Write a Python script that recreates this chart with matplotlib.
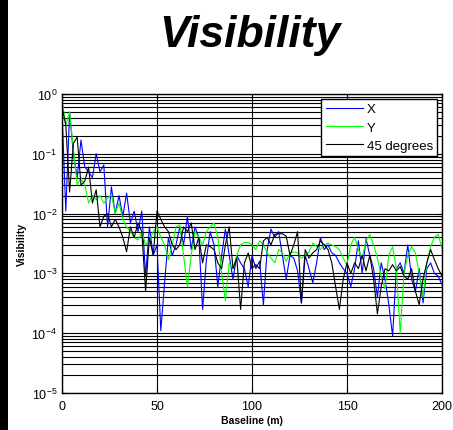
import numpy as np
import matplotlib
matplotlib.use("Agg")
import matplotlib.pyplot as plt
from matplotlib.patches import Rectangle

plt.rcParams['font.family'] = ['Liberation Sans', 'DejaVu Sans']
plt.rcParams['mathtext.default'] = 'regular'

# Baseline positions (m)
baseline = np.arange(0, 201, 2)

vis_x = [0.5, 0.011, 0.5, 0.1, 0.04, 0.17, 0.06, 0.05, 0.04, 0.1,
         0.05, 0.065, 0.006, 0.028, 0.01, 0.02, 0.009, 0.022, 0.007, 0.011,
         0.005, 0.011, 0.0009, 0.006, 0.002, 0.003, 1.1e-4, 7e-4, 0.004, 0.002,
         0.003, 0.006, 0.003, 0.009, 0.0025, 0.006, 0.004, 2.5e-4, 0.0017, 0.005,
         0.003, 6e-4, 0.002, 0.0055, 0.002, 8e-4, 0.002, 0.0015, 0.0012, 6e-4,
         0.002, 0.0012, 0.0016, 3e-4, 0.0025, 0.0055, 0.004, 0.005, 0.002, 8e-4,
         0.002, 0.0018, 0.0011, 3.2e-4, 0.002, 0.0012, 7e-4, 0.0015, 0.004, 0.0025,
         0.003, 0.0022, 0.002, 0.0015, 0.0012, 0.001, 6e-4, 0.0012, 0.0035, 0.001,
         0.0038, 0.002, 0.0012, 4e-4, 0.0015, 8e-4, 3e-4, 9e-5, 0.0012, 0.0015,
         0.001, 0.003, 8e-4, 5e-4, 0.0012, 3.2e-4, 0.0012, 0.0015, 0.001, 9e-4,
         6.5e-4]

vis_y = [0.8, 0.3, 0.5, 0.12, 0.03, 0.04, 0.03, 0.015, 0.02, 0.017,
         0.02, 0.015, 0.018, 0.021, 0.01, 0.015, 0.008, 0.006, 0.005, 0.004,
         0.0036, 0.005, 0.003, 0.0035, 0.005, 0.006, 0.004, 0.003, 0.0017, 0.003,
         0.006, 0.0065, 0.002, 6e-4, 0.002, 0.005, 0.004, 0.003, 0.005, 0.006,
         0.007, 0.004, 0.001, 3.5e-4, 0.0015, 0.0012, 0.002, 0.003, 0.0033, 0.0033,
         0.003, 0.0025, 0.0035, 0.003, 0.0022, 0.0018, 0.0015, 0.0025, 0.0022, 0.0016,
         0.0022, 0.0023, 0.0022, 0.0018, 0.002, 0.0023, 0.0032, 0.0028, 0.0025, 0.003,
         0.0032, 0.003, 0.0028, 0.0025, 0.0018, 0.0014, 0.003, 0.004, 0.0025, 0.0018,
         0.0035, 0.0045, 0.003, 0.0018, 9e-4, 5.5e-4, 0.002, 0.0028, 0.0012, 1e-4,
         0.001, 0.002, 0.0028, 0.0022, 0.001, 4e-4, 0.0015, 0.0028, 0.004, 0.0045,
         0.0026]

vis_45 = [0.6, 0.3, 0.023, 0.15, 0.19, 0.03, 0.035, 0.06, 0.015, 0.025,
          0.006, 0.009, 0.01, 0.006, 0.008, 0.006, 0.004, 0.0023, 0.006, 0.004,
          0.007, 0.005, 5e-4, 0.004, 0.002, 0.011, 0.008, 0.006, 0.005, 0.003,
          0.0025, 0.003, 0.006, 0.005, 0.007, 0.0025, 0.004, 0.0015, 0.003, 0.0028,
          0.0025, 0.0015, 0.0012, 0.003, 0.006, 0.0012, 0.0018, 2.5e-4, 0.0015, 0.0022,
          0.0012, 0.0014, 0.0012, 0.0035, 0.004, 0.003, 0.0045, 0.0046, 0.0046, 0.0042,
          0.002, 0.003, 0.005, 3.2e-4, 0.0025, 0.0018, 0.0022, 0.0025, 0.0035, 0.003,
          0.0025, 0.0015, 6e-4, 2.5e-4, 8e-4, 0.0015, 0.001, 0.0015, 0.0012, 0.002,
          0.0011, 0.002, 8e-4, 2.1e-4, 6e-4, 0.0012, 0.0011, 0.0014, 0.0011, 0.0013,
          9e-4, 8e-4, 0.0012, 5e-4, 3e-4, 8e-4, 0.0015, 0.0025, 0.0017, 0.0012,
          9e-4]

labels = ["X", "Y", "45 degrees"]
colors = ["#0000ff", "#00ff00", "#000000"]

fig = plt.figure(figsize=(4.53, 4.31), dpi=100)
fig.patches.append(Rectangle((0, 0), 8 / 453, 1, transform=fig.transFigure,
                             facecolor="black", edgecolor="none", zorder=0))

ax = fig.add_axes([62 / 453, 37 / 431, 380 / 453, 299 / 431])

for vals, lab, col in zip([vis_x, vis_y, vis_45], labels, colors):
    ax.plot(baseline, vals, color=col, lw=0.8, label=lab)

ax.set_yscale("log")
ax.set_xlim(0, 200)
ax.set_ylim(1e-5, 1)
ax.set_xticks([0, 50, 100, 150, 200])
ax.grid(True, which="major", color="black", lw=0.8)
ax.grid(True, which="minor", axis="y", color="black", lw=0.8)
ax.tick_params(which="both", direction="in", top=True, right=True,
               labelsize=9, length=3)
ax.tick_params(axis="x", pad=5)
ax.tick_params(which="minor", length=1.5)
for sp in ax.spines.values():
    sp.set_linewidth(1.0)

ax.set_xlabel("Baseline (m)", fontsize=7.5, fontweight="bold", labelpad=2)
ax.set_ylabel("Visibility", fontsize=7.5, fontweight="bold", labelpad=3)

fig.text(250 / 453, 1 - 36 / 431, "Visibility", ha="center", va="center",
         fontsize=32, fontweight="bold", fontstyle="italic")

leg = ax.legend(loc="upper right", fontsize=9.5, handlelength=2.8,
                fancybox=False, framealpha=1, edgecolor="black",
                borderaxespad=0.35, handletextpad=0.3, labelspacing=0.45,
                borderpad=0.35)
leg.get_frame().set_linewidth(1.0)

fig.savefig("out.png", dpi=100)
